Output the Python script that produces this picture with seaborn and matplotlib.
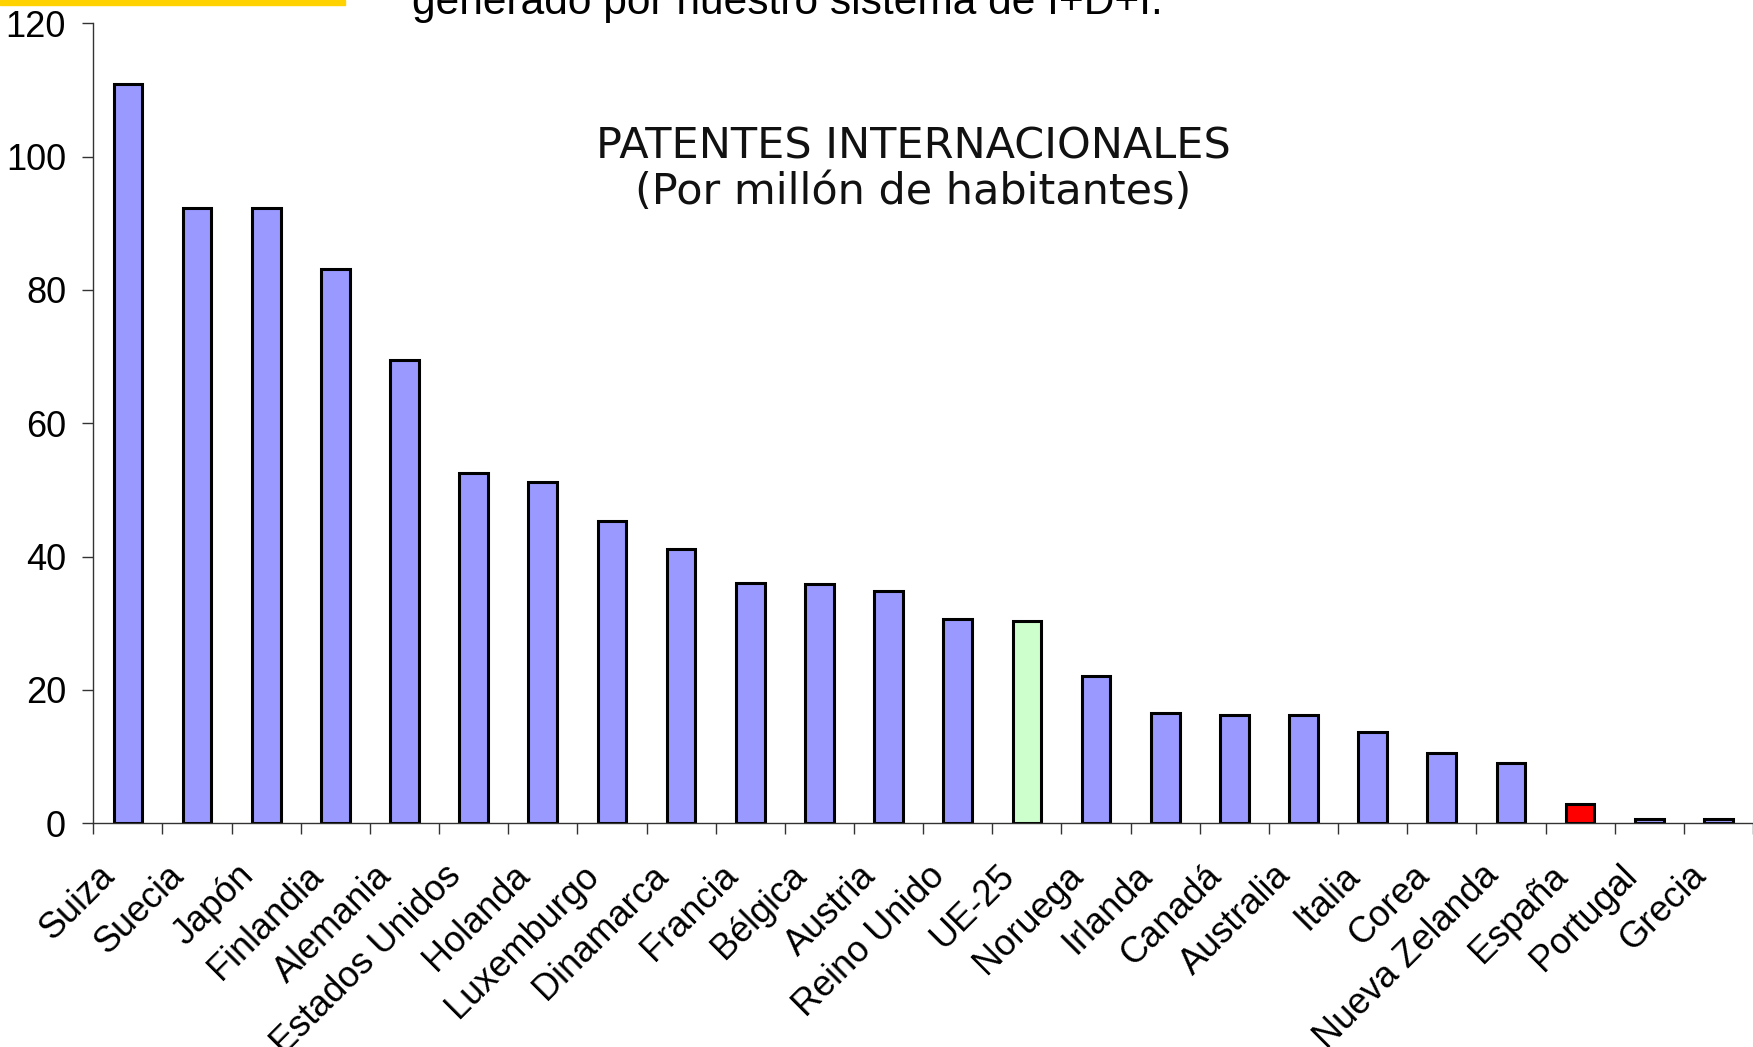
import numpy as np
import matplotlib
matplotlib.use("Agg")
import matplotlib.pyplot as plt
import matplotlib.transforms as mtransforms
from matplotlib.patches import Rectangle
import seaborn as sns

# International patents per million inhabitants
paises = ["Suiza", "Suecia", "Japón", "Finlandia", "Alemania", "Estados Unidos",
          "Holanda", "Luxemburgo", "Dinamarca", "Francia", "Bélgica", "Austria",
          "Reino Unido", "UE-25", "Noruega", "Irlanda", "Canadá", "Australia",
          "Italia", "Corea", "Nueva Zelanda", "España", "Portugal", "Grecia"]
patentes = [110.9, 92.3, 92.3, 83.1, 69.5, 52.6,
            51.2, 45.3, 41.1, 36.1, 35.9, 34.8,
            30.6, 30.4, 22.1, 16.5, 16.3, 16.3,
            13.7, 10.6, 9.0, 2.9, 0.7, 0.6]
colores = ["#FF0000" if p == "España" else "#CCFFCC" if p == "UE-25" else "#9999FF"
           for p in paises]

titulo = "PATENTES INTERNACIONALES"
subtitulo = "(Por millón de habitantes)"
encabezado = "generado por nuestro sistema de I+D+I."
y_ticks = [0, 20, 40, 60, 80, 100, 120]

sns.set_style("ticks")
plt.rcParams["font.family"] = ["Liberation Sans", "DejaVu Sans"]

W, H = 1753, 1047
fig = plt.figure(figsize=(W / 100, H / 100), dpi=100)
fig.patch.set_facecolor("white")

ax_left, ax_bottom, ax_top = 93.3, 823.3, 23.3
ax = fig.add_axes([ax_left / W, 1 - ax_bottom / H, 1 - ax_left / W, (ax_bottom - ax_top) / H])

sns.barplot(x=paises, y=patentes, hue=paises, palette=colores, legend=False,
            width=0.414, edgecolor="black", linewidth=2.2, saturation=1, ax=ax)

cat_w = 69.4
ax.set_xlim(-0.5, (W - ax_left) / cat_w - 0.5)
ax.set_ylim(0, 120)
ax.set_yticks(y_ticks)
ax.set_xlabel("")
ax.set_ylabel("")

for side in ("top", "right"):
    ax.spines[side].set_visible(False)
for side in ("left", "bottom"):
    ax.spines[side].set_color("#333333")
    ax.spines[side].set_linewidth(1.0)

ax.tick_params(axis="y", length=7.6, width=1.0, pad=12, labelsize=26,
               direction="out", left=True, color="#333333", labelcolor="black")
ax.set_xticks(np.arange(-0.5, len(paises), 1.0), minor=True)
ax.tick_params(axis="x", which="minor", length=8, width=1.0, bottom=True,
               direction="out", color="#333333")
ax.tick_params(axis="x", which="major", length=0, pad=34, labelsize=26,
               labelcolor="black")

shift = mtransforms.ScaledTranslation(-18 / 100, 0, fig.dpi_scale_trans)
for lab in ax.get_xticklabels():
    lab.set_rotation(45)
    lab.set_ha("right")
    lab.set_va("center")
    lab.set_rotation_mode("anchor")
    lab.set_transform(lab.get_transform() + shift)

# Chart title inside the plot area
fig.text(913 / W, 1 - 147 / H, titulo, ha="center", va="center",
         fontsize=31, family="DejaVu Sans", color="#111111")
fig.text(913 / W, 1 - 192 / H, subtitulo, ha="center", va="center",
         fontsize=31, family="DejaVu Sans", color="#111111")

# Slide header strip and caption above the chart
fig.patches.append(Rectangle((0, 1 - 5 / H), 345 / W, 5 / H,
                             transform=fig.transFigure, color="#FFD200", zorder=5))
fig.text(412 / W, 1 - 14 / H, encabezado, ha="left", va="baseline",
         fontsize=30.6, color="black")

fig.savefig("out.png", dpi=100, facecolor="white")
